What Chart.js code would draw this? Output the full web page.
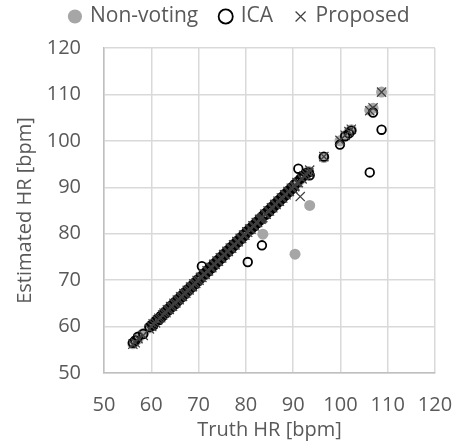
<!DOCTYPE html>
<html>
<head>
<meta charset="utf-8">
<script src="https://cdn.jsdelivr.net/npm/chart.js@4/dist/chart.umd.min.js"></script>
<style>
  html, body { margin: 0; padding: 0; background: #fff; }
  #wrap { width: 459px; height: 447px; }
</style>
</head>
<body>
<div id="wrap"><canvas id="hrChart"></canvas></div>
<script>
// truth heart rate (x) shared by every method
var truth = [
  56.1, 56.6, 57.2, 58.3, 59.6, 60.1, 60.4, 60.9, 61.3, 61.6,
  62.0, 62.4, 62.7, 63.1, 63.4, 63.8, 64.1, 64.5, 64.8, 65.2,
  65.5, 65.9, 66.2, 66.6, 66.9, 67.3, 67.6, 68.0, 68.3, 68.7,
  69.0, 69.4, 69.7, 70.1, 70.4, 70.7, 71.1, 71.4, 71.8, 72.1,
  72.5, 72.8, 73.2, 73.5, 73.9, 74.2, 74.6, 74.9, 75.3, 75.6,
  76.0, 76.3, 76.7, 77.0, 77.4, 77.7, 78.1, 78.4, 78.8, 79.1,
  79.5, 79.8, 80.2, 80.4, 80.8, 81.1, 81.5, 81.8, 82.2, 82.5,
  82.9, 83.2, 83.4, 83.6, 84.0, 84.3, 84.7, 85.0, 85.4, 85.7,
  86.1, 86.4, 86.8, 87.1, 87.5, 87.8, 88.2, 88.5, 88.9, 89.2,
  89.6, 89.9, 90.3, 90.4, 90.8, 91.1, 91.5, 91.9, 92.3, 92.8,
  93.3, 93.5, 96.5, 99.9, 101.0, 101.8, 102.3, 106.2, 106.9, 108.7
];

var nonVoting = [
  56.3, 56.8, 57.3, 58.5, 59.7, 60.3, 60.5, 61.0, 61.5, 61.7,
  62.1, 62.6, 62.8, 63.3, 63.5, 64.0, 64.2, 64.7, 64.9, 65.4,
  65.6, 66.1, 66.3, 66.8, 67.0, 67.5, 67.7, 68.2, 68.4, 68.9,
  69.1, 69.6, 69.8, 70.3, 70.5, 70.9, 71.2, 71.6, 71.9, 72.3,
  72.6, 73.0, 73.3, 73.7, 74.0, 74.4, 74.7, 75.1, 75.4, 75.8,
  76.1, 76.5, 76.8, 77.2, 77.5, 77.9, 78.2, 78.6, 78.9, 79.3,
  79.6, 80.0, 80.3, 80.6, 80.9, 81.3, 81.6, 82.0, 82.3, 82.7,
  83.0, 83.4, 83.5, 79.9, 84.1, 84.5, 84.8, 85.2, 85.5, 85.9,
  86.2, 86.6, 86.9, 87.3, 87.6, 88.0, 88.3, 88.7, 89.0, 89.4,
  89.7, 90.1, 90.4, 75.6, 90.9, 91.3, 91.6, 92.1, 92.4, 93.0,
  93.4, 86.1, 96.4, 100.0, 101.1, 101.9, 102.4, 106.6, 107.0, 110.5
];

var ica = [
  56.5, 57.0, 57.8, 58.4, 59.9, 60.4, 60.2, 61.2, 61.6, 61.4,
  62.3, 62.2, 63.0, 62.9, 63.7, 63.6, 64.4, 64.3, 65.1, 64.9,
  65.8, 65.7, 66.5, 66.4, 67.2, 67.1, 67.9, 67.8, 68.6, 68.5,
  69.3, 69.2, 70.0, 69.9, 70.7, 73.0, 71.4, 71.2, 72.1, 71.9,
  72.8, 72.6, 73.5, 73.3, 74.2, 74.0, 74.9, 74.7, 75.6, 75.4,
  76.3, 76.1, 77.0, 76.8, 77.7, 77.5, 78.4, 78.2, 79.1, 78.9,
  79.8, 79.6, 80.5, 73.9, 81.1, 80.9, 81.8, 81.6, 82.5, 82.3,
  83.2, 83.0, 77.5, 83.9, 84.3, 84.1, 85.0, 84.8, 85.7, 85.5,
  86.4, 86.2, 87.1, 86.9, 87.8, 87.6, 88.5, 88.3, 89.2, 89.0,
  89.9, 89.7, 90.6, 90.6, 91.1, 94.0, 91.8, 92.2, 92.6, 93.1,
  93.2, 92.6, 96.6, 99.2, 101.0, 101.6, 102.2, 93.2, 106.1, 102.4
];

var proposed = [
  56.2, 56.5, 57.4, 58.1, 59.5, 60.0, 60.6, 60.8, 61.4, 61.8,
  61.9, 62.5, 62.9, 63.0, 63.6, 63.7, 64.3, 64.4, 65.0, 65.1,
  65.7, 65.8, 66.4, 66.5, 67.1, 67.2, 67.8, 67.9, 68.5, 68.6,
  69.2, 69.3, 69.9, 70.0, 70.6, 70.6, 71.3, 71.3, 72.0, 72.0,
  72.7, 72.7, 73.4, 73.4, 74.1, 74.1, 74.8, 74.8, 75.5, 75.5,
  76.2, 76.2, 76.9, 76.9, 77.6, 77.6, 78.3, 78.3, 79.0, 79.0,
  79.7, 79.7, 80.4, 80.3, 81.0, 81.0, 81.7, 81.7, 82.4, 82.4,
  83.1, 83.1, 83.3, 83.5, 84.2, 84.2, 84.9, 84.9, 85.6, 85.6,
  86.3, 86.3, 87.0, 87.0, 87.7, 87.7, 88.4, 88.4, 89.1, 89.1,
  89.8, 89.8, 90.1, 90.3, 91.0, 91.0, 88.0, 91.8, 92.5, 92.7,
  93.1, 93.7, 96.6, 100.1, 101.2, 102.0, 102.5, 106.5, 107.1, 110.5
];

var axisTicks = [50, 60, 70, 80, 90, 100, 110, 120];

function pairs(est) {
  return truth.map(function (t, i) { return { x: t, y: est[i] }; });
}

var txt = '#595959';
var fontName = "'Open Sans', 'Noto Sans', sans-serif";

// extra room between the legend row and the plot
var legendGap = {
    id: 'legendGap',
    beforeLayout: function (chart) {
        var lg = chart.legend;
        if (lg && !lg._gapAdded) {
            var fit = lg.fit;
            lg.fit = function () { fit.call(this); this.height += 11; };
            lg._gapAdded = true;
        }
    }
};

var ctx = document.getElementById('hrChart').getContext('2d');
var hrChart = new Chart(ctx, {
    type: 'scatter',
    data: {
        // drawn last-to-first, so Proposed sits on top like in Excel
        datasets: [{
            label: 'Proposed',
            data: pairs(proposed),
            pointStyle: 'crossRot',
            pointRadius: 6.5,
            borderColor: '#3f3f3f',
            backgroundColor: '#3f3f3f',
            borderWidth: 1.2
        }, {
            label: 'ICA',
            data: pairs(ica),
            pointStyle: 'circle',
            pointRadius: 4.3,
            borderColor: '#000000',
            backgroundColor: 'rgba(0,0,0,0)',
            borderWidth: 1.8
        }, {
            label: 'Non-voting',
            data: pairs(nonVoting),
            pointStyle: 'circle',
            pointRadius: 5.5,
            borderColor: '#a6a6a6',
            backgroundColor: '#a6a6a6',
            borderWidth: 0
        }]
    },
    plugins: [legendGap],
    options: {
        responsive: true,
        maintainAspectRatio: false,
        animation: false,
        layout: { padding: { top: -17, left: 45, right: 24, bottom: 0 } },
        plugins: {
            tooltip: { enabled: false },
            legend: {
                position: 'top',
                reverse: true,
                labels: {
                    usePointStyle: true,
                    boxWidth: 9,
                    boxHeight: 10,
                    padding: 23,
                    color: txt,
                    font: { family: fontName, size: 21 }
                }
            }
        },
        scales: {
            x: {
                type: 'linear',
                min: axisTicks[0],
                max: axisTicks[axisTicks.length - 1],
                afterFit: function (s) { s.height = 74; s.paddingLeft = 0; s.paddingRight = 0; },
                afterBuildTicks: function (s) { s.ticks = axisTicks.map(function (v) { return { value: v }; }); },
                ticks: { color: txt, padding: 20, font: { family: fontName, size: 20 } },
                grid: { color: '#d9d9d9', lineWidth: 1.5, drawTicks: false },
                border: { color: '#bfbfbf', width: 1.5 },
                title: {
                    display: true,
                    text: 'Truth HR [bpm]',
                    color: txt,
                    font: { family: fontName, size: 20 },
                    padding: { top: 0, bottom: 5 }
                }
            },
            y: {
                type: 'linear',
                min: axisTicks[0],
                max: axisTicks[axisTicks.length - 1],
                afterFit: function (s) { s.width = 59; },
                afterBuildTicks: function (s) { s.ticks = axisTicks.map(function (v) { return { value: v }; }); },
                ticks: { color: txt, padding: 23, font: { family: fontName, size: 20 } },
                grid: { color: '#d9d9d9', lineWidth: 1.5, drawTicks: false },
                border: { color: '#bfbfbf', width: 1.5 },
                title: {
                    display: true,
                    text: 'Estimated HR [bpm]',
                    color: txt,
                    font: { family: fontName, size: 20 },
                    padding: { top: -32, bottom: 0 }
                }
            }
        }
    }
});
</script>
</body>
</html>
